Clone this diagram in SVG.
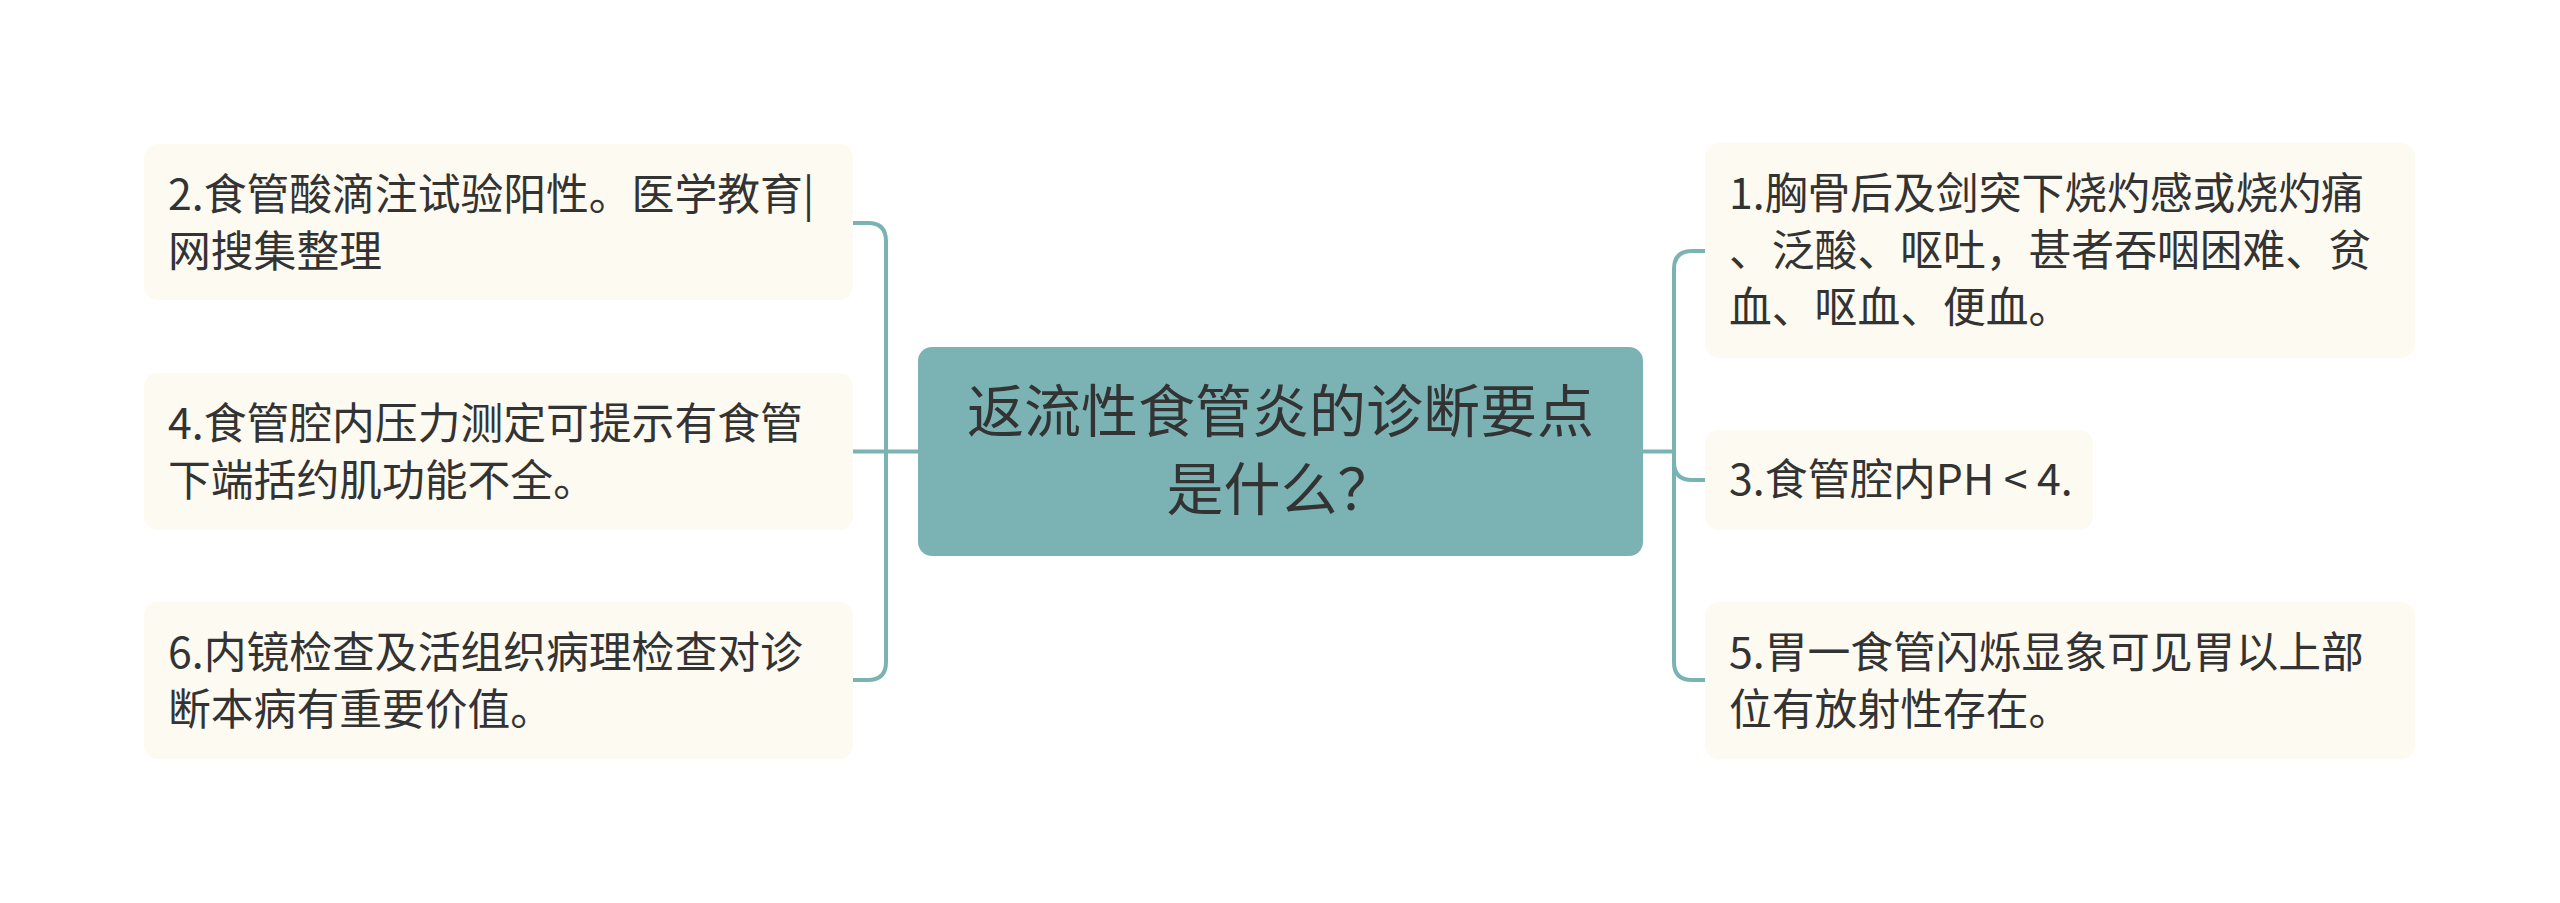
<svg xmlns="http://www.w3.org/2000/svg" width="2560" height="903" viewBox="0 0 2560 903">
<style>
.node rect{fill:#fcfaf1;}
.node text{font-family:"Noto Sans CJK SC","Noto Sans",sans-serif;font-size:42.8px;fill:#333333;}
#center rect{fill:#7bb3b5;}
#center text{font-family:"Noto Sans CJK SC","Noto Sans",sans-serif;font-size:57px;fill:#333333;text-anchor:middle;}
#connectors path{fill:none;stroke:#7bb3b5;stroke-width:4;}
</style>
<rect width="2560" height="903" fill="#ffffff"/>
<g id="connectors">
<path d="M853,223 H868 Q886,223 886,241 V662 Q886,680 868,680 H853"/>
<path d="M918,451.5 H853"/>
<path d="M1643,451.5 H1674"/>
<path d="M1705,251 H1692 Q1674,251 1674,269 V662 Q1674,680 1692,680 H1705"/>
<path d="M1674,451 V462 Q1674,480 1692,480 H1705"/>
</g>
<g id="center">
<rect x="918" y="347" width="725" height="209" rx="14"/>
<text x="1280.5" y="432">返流性食管炎的诊断要点</text>
<text x="1280.5" y="510">是什么？</text>
</g>
<g id="node-2" class="node">
<rect x="144" y="144" width="709" height="156" rx="14"/>
<text x="168" y="210">2.食管酸滴注试验阳性。医学教育|</text>
<text x="168" y="267">网搜集整理</text>
</g>
<g id="node-4" class="node">
<rect x="144" y="373" width="709" height="157" rx="14"/>
<text x="168" y="439">4.食管腔内压力测定可提示有食管</text>
<text x="168" y="496">下端括约肌功能不全。</text>
</g>
<g id="node-6" class="node">
<rect x="144" y="602" width="709" height="157" rx="14"/>
<text x="168" y="668">6.内镜检查及活组织病理检查对诊</text>
<text x="168" y="725">断本病有重要价值。</text>
</g>
<g id="node-1" class="node">
<rect x="1705" y="143" width="710" height="215" rx="14"/>
<text x="1729" y="209">1.胸骨后及剑突下烧灼感或烧灼痛</text>
<text x="1729" y="266">、泛酸、呕吐，甚者吞咽困难、贫</text>
<text x="1729" y="323">血、呕血、便血。</text>
</g>
<g id="node-3" class="node">
<rect x="1705" y="430" width="388" height="100" rx="14"/>
<text x="1729" y="495">3.食管腔内PH &lt; 4.</text>
</g>
<g id="node-5" class="node">
<rect x="1705" y="602" width="710" height="157" rx="14"/>
<text x="1729" y="668">5.胃一食管闪烁显象可见胃以上部</text>
<text x="1729" y="725">位有放射性存在。</text>
</g>
</svg>
